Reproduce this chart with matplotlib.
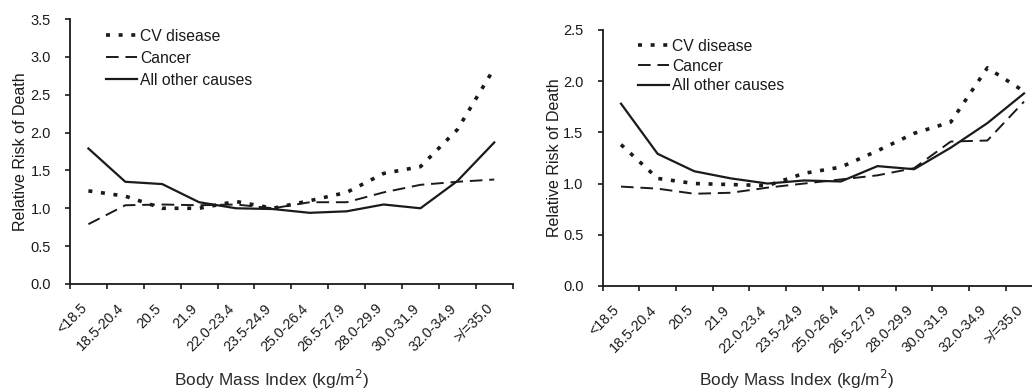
import matplotlib
matplotlib.use("Agg")
import matplotlib.pyplot as plt
import numpy as np
import logging
logging.getLogger('matplotlib.font_manager').setLevel(logging.ERROR)

plt.rcParams['font.family'] = ['Liberation Sans', 'DejaVu Sans']

categories = ["<18.5", "18.5-20.4", "20.5", "21.9", "22.0-23.4", "23.5-24.9",
              "25.0-26.4", "26.5-27.9", "28.0-29.9", "30.0-31.9", "32.0-34.9", ">/=35.0"]

# Left panel
left_cv = [1.23, 1.16, 1.00, 1.00, 1.09, 1.00, 1.10, 1.21, 1.46, 1.55, 2.04, 2.85]
left_cancer = [0.79, 1.04, 1.05, 1.04, 1.05, 1.00, 1.08, 1.08, 1.21, 1.31, 1.35, 1.38]
left_other = [1.79, 1.35, 1.32, 1.08, 1.00, 0.99, 0.94, 0.96, 1.05, 1.00, 1.36, 1.87]

# Right panel
right_cv = [1.38, 1.05, 1.00, 0.99, 0.98, 1.10, 1.16, 1.32, 1.49, 1.60, 2.13, 1.90]
right_cancer = [0.97, 0.95, 0.90, 0.91, 0.96, 1.00, 1.04, 1.08, 1.15, 1.41, 1.42, 1.80]
right_other = [1.78, 1.29, 1.12, 1.05, 1.00, 1.03, 1.02, 1.17, 1.14, 1.35, 1.59, 1.88]

series_names = ["CV disease", "Cancer", "All other causes"]

ink = '#1a1a1a'
fig = plt.figure(figsize=(10.32, 3.89), dpi=100)


def draw(ax, cv, cancer, other, ymax, yticks, leg_anchor, leg_spacing, ylab_x, xlab_pos):
    n = len(categories)
    x = np.arange(n) + 0.5
    ax.plot(x, cv, color=ink, lw=2.6, linestyle=(0, (1.1, 2.4)), label=series_names[0])
    ax.plot(x, cancer, color=ink, lw=1.4, linestyle=(0, (6.5, 3.5)), label=series_names[1])
    ax.plot(x, other, color=ink, lw=1.6, linestyle='-', label=series_names[2])
    ax.set_xlim(0, n)
    ax.set_ylim(0, ymax)
    ax.set_yticks(yticks)
    ax.set_yticklabels([f"{v:.1f}" for v in yticks], fontsize=10.5,
                       family=['Liberation Sans Narrow', 'Liberation Sans', 'DejaVu Sans'])
    # major ticks at category boundaries, labels at (slightly shifted) centres
    ax.set_xticks(np.arange(n + 1))
    ax.set_xticklabels([])
    ax.set_xticks(x - 0.1, minor=True)
    ax.set_xticklabels(categories, minor=True, rotation=45, ha='right', va='center',
                       rotation_mode='anchor', fontsize=10.3)
    ax.tick_params(axis='x', which='minor', length=0, pad=16, labelcolor=ink)
    ax.spines['top'].set_visible(False)
    ax.spines['right'].set_visible(False)
    for s in ['left', 'bottom']:
        ax.spines[s].set_color(ink)
        ax.spines[s].set_linewidth(1.3)
    ax.tick_params(axis='both', which='major', direction='out', length=3.8, width=1.2,
                   color=ink, labelcolor=ink)
    ax.tick_params(axis='y', pad=10)
    ax.set_ylabel("Relative Risk of Death", fontsize=11.5, color=ink)
    ax.yaxis.set_label_coords(ylab_x, 0.5)
    ax.set_xlabel("Body Mass Index (kg/m$^2$)", fontsize=12.4, color='#2a2a2a')
    ax.xaxis.label.set_va('center')
    ax.xaxis.set_label_coords(*xlab_pos)
    leg = ax.legend(loc='upper left', bbox_to_anchor=leg_anchor, frameon=False,
                    fontsize=11.3, handlelength=2.0, handletextpad=0.2,
                    labelspacing=leg_spacing, borderaxespad=0.0, borderpad=0.0)
    for t in leg.get_texts():
        t.set_color(ink)


ax1 = fig.add_axes([0.0678, 0.270, 0.429, 0.681])
draw(ax1, left_cv, left_cancer, left_other, 3.5, np.arange(0, 3.51, 0.5),
     (0.081, 0.964), 0.45, -0.094, (0.456, -0.36))

ax2 = fig.add_axes([0.584, 0.265, 0.426, 0.658])
draw(ax2, right_cv, right_cancer, right_other, 2.5, np.arange(0, 2.51, 0.5),
     (0.080, 0.965), 0.30, -0.093, (0.442, -0.365))

fig.savefig("out.png", dpi=100)
